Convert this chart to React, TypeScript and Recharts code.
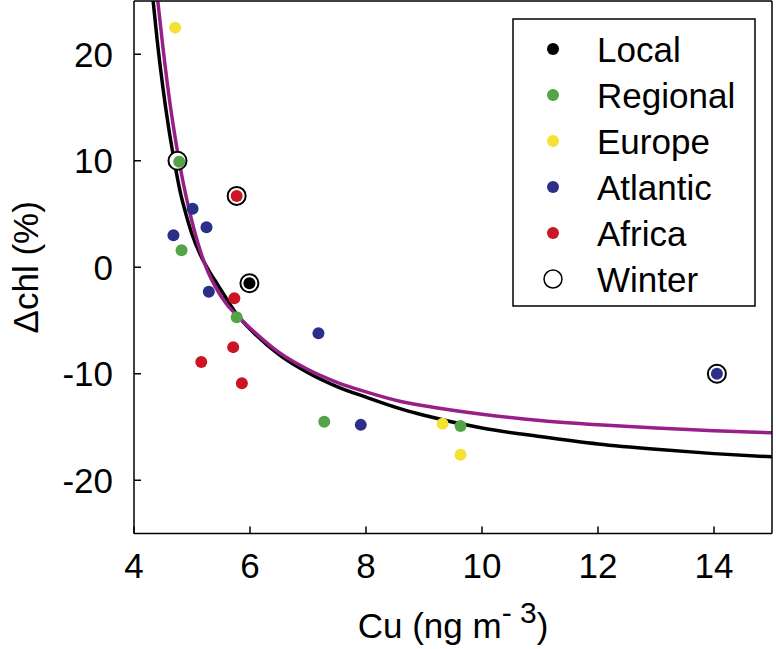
import React from "react";
import { ComposedChart, Line, Scatter, XAxis, YAxis } from "recharts";

const FONT = "'Liberation Sans', Arial, Helvetica, sans-serif";

const xTicks = [4, 6, 8, 10, 12, 14];
const yTicks = [-20, -10, 0, 10, 20];

// groups of samples (Cu, Δchl)
const localPts = [{ x: 5.99, y: -1.5 }];
const regionalPts = [
  { x: 4.78, y: 9.9 },
  { x: 4.82, y: 1.6 },
  { x: 5.77, y: -4.7 },
  { x: 7.28, y: -14.5 },
  { x: 9.63, y: -14.9 },
];
const europePts = [
  { x: 4.71, y: 22.5 },
  { x: 9.32, y: -14.7 },
  { x: 9.63, y: -17.6 },
];
const atlanticPts = [
  { x: 5.01, y: 5.5 },
  { x: 5.25, y: 3.75 },
  { x: 4.68, y: 3.0 },
  { x: 5.29, y: -2.3 },
  { x: 7.18, y: -6.2 },
  { x: 7.91, y: -14.8 },
  { x: 14.05, y: -10.0 },
];
const africaPts = [
  { x: 5.77, y: 6.7 },
  { x: 5.73, y: -2.9 },
  { x: 5.71, y: -7.5 },
  { x: 5.16, y: -8.9 },
  { x: 5.86, y: -10.9 },
];
const winterPts = [
  { x: 4.75, y: 10.0 },
  { x: 5.77, y: 6.7 },
  { x: 5.99, y: -1.5 },
  { x: 14.05, y: -10.0 },
];

// fitted curves
const blackFit = [
  { x: 4.33, y: 25 }, { x: 4.4, y: 21.3 }, { x: 4.5, y: 16.8 }, { x: 4.6, y: 13.0 },
  { x: 4.7, y: 9.8 }, { x: 4.8, y: 7.0 }, { x: 4.9, y: 4.9 }, { x: 5.0, y: 3.1 },
  { x: 5.15, y: 1.1 }, { x: 5.3, y: -0.4 }, { x: 5.45, y: -1.7 }, { x: 5.6, y: -3.0 },
  { x: 5.77, y: -4.4 }, { x: 6.0, y: -5.8 }, { x: 6.5, y: -8.2 }, { x: 7.0, y: -9.9 },
  { x: 7.5, y: -11.2 }, { x: 8.0, y: -12.2 }, { x: 8.6, y: -13.3 }, { x: 9.0, y: -13.9 },
  { x: 10, y: -15.1 }, { x: 11, y: -15.9 }, { x: 12, y: -16.6 }, { x: 13, y: -17.1 },
  { x: 14, y: -17.5 }, { x: 15, y: -17.8 },
];
const purpleFit = [
  { x: 4.41, y: 25 }, { x: 4.5, y: 20.6 }, { x: 4.6, y: 16.2 }, { x: 4.7, y: 12.5 },
  { x: 4.8, y: 9.3 }, { x: 4.9, y: 6.6 }, { x: 5.0, y: 4.3 }, { x: 5.1, y: 2.3 },
  { x: 5.25, y: -0.1 }, { x: 5.4, y: -1.8 }, { x: 5.6, y: -3.5 }, { x: 5.77, y: -4.5 },
  { x: 6.0, y: -5.7 }, { x: 6.5, y: -8.0 }, { x: 7.0, y: -9.6 }, { x: 7.5, y: -10.8 },
  { x: 8.0, y: -11.7 }, { x: 8.6, y: -12.6 }, { x: 9.0, y: -13.0 }, { x: 10, y: -13.8 },
  { x: 11, y: -14.4 }, { x: 12, y: -14.8 }, { x: 13, y: -15.1 }, { x: 14, y: -15.35 },
  { x: 15, y: -15.55 },
];

const colors = {
  local: "#000000",
  regional: "#52a447",
  europe: "#f3e233",
  atlantic: "#2c2f8a",
  africa: "#cc1424",
  fit: "#991f88",
};

const legendItems = [
  { name: "Local", color: colors.local },
  { name: "Regional", color: colors.regional },
  { name: "Europe", color: colors.europe },
  { name: "Atlantic", color: colors.atlantic },
  { name: "Africa", color: colors.africa },
  { name: "Winter", color: null },
];

const dot = (color: string) => (p: any) => (
  <circle cx={p.cx} cy={p.cy} r={6} fill={color} />
);
const ring = (p: any) => (
  <circle cx={p.cx} cy={p.cy} r={9} fill="#fff" stroke="#000" strokeWidth={2} />
);

const tickStyle = { fontSize: 35, fill: "#000", fontFamily: FONT };

const XLabel = (props: any) => {
  const vb = props.viewBox;
  return (
    <text
      x={vb.x + vb.width / 2}
      y={638}
      textAnchor="middle"
      fontSize={35}
      fontFamily={FONT}
      fill="#000"
    >
      Cu (ng m
      <tspan dy={-15} fontSize={30}>- 3</tspan>
      <tspan dy={15}>)</tspan>
    </text>
  );
};

const YLabel = (props: any) => {
  const vb = props.viewBox;
  const cy = vb.y + vb.height / 2;
  return (
    <text
      x={38}
      y={cy}
      transform={`rotate(-90 38 ${cy})`}
      textAnchor="middle"
      fontSize={35}
      fontFamily={FONT}
      fill="#000"
    >
      Δchl (%)
    </text>
  );
};

export default function App() {
  return (
    <div style={{ position: "absolute", left: 0, top: 0, width: 776, height: 649 }}>
      <ComposedChart
        width={776}
        height={649}
        margin={{ top: 0, right: 0, left: 64, bottom: 55.5 }}
      >
        <XAxis
          type="number"
          dataKey="x"
          domain={[4, 15]}
          ticks={xTicks}
          allowDataOverflow
          height={60}
          stroke="#000"
          strokeWidth={1.5}
          tickSize={-7}
          tickMargin={26.5}
          tick={tickStyle}
          label={<XLabel />}
        />
        <XAxis
          xAxisId="top"
          orientation="top"
          type="number"
          domain={[4, 15]}
          ticks={xTicks}
          allowDataOverflow
          height={1}
          stroke="#000"
          strokeWidth={1.5}
          tickSize={-7}
          tick={false}
        />
        <YAxis
          type="number"
          dataKey="y"
          domain={[-25, 25]}
          ticks={yTicks}
          allowDataOverflow
          width={70}
          stroke="#000"
          strokeWidth={1.5}
          tickSize={-7}
          tickMargin={28}
          tick={tickStyle}
          label={<YLabel />}
        />
        <YAxis
          yAxisId="right"
          orientation="right"
          type="number"
          domain={[-25, 25]}
          ticks={yTicks}
          allowDataOverflow
          width={4}
          stroke="#000"
          strokeWidth={1.5}
          tickSize={-7}
          tick={false}
        />
        <Scatter data={winterPts} shape={ring} isAnimationActive={false} />
        <Scatter data={localPts} shape={dot(colors.local)} isAnimationActive={false} />
        <Scatter data={regionalPts} shape={dot(colors.regional)} isAnimationActive={false} />
        <Scatter data={europePts} shape={dot(colors.europe)} isAnimationActive={false} />
        <Scatter data={atlanticPts} shape={dot(colors.atlantic)} isAnimationActive={false} />
        <Scatter data={africaPts} shape={dot(colors.africa)} isAnimationActive={false} />
        <Line
          data={blackFit}
          dataKey="y"
          type="monotone"
          stroke="#000"
          strokeWidth={3.5}
          dot={false}
          activeDot={false}
          isAnimationActive={false}
        />
        <Line
          data={purpleFit}
          dataKey="y"
          type="monotone"
          stroke={colors.fit}
          strokeWidth={3.5}
          dot={false}
          activeDot={false}
          isAnimationActive={false}
        />
      </ComposedChart>
      <svg
        width={776}
        height={649}
        style={{ position: "absolute", left: 0, top: 0, pointerEvents: "none" }}
      >
        <rect x={513} y={19} width={242} height={287} fill="#fff" stroke="#000" strokeWidth={1.5} />
        {legendItems.map((it, i) => {
          const cy = 49 + i * 46;
          return (
            <g key={it.name}>
              {it.color ? (
                <circle cx={553} cy={cy} r={6} fill={it.color} />
              ) : (
                <circle cx={553} cy={cy} r={9} fill="#fff" stroke="#000" strokeWidth={1.5} />
              )}
              <text x={597} y={cy + 12.5} fontSize={35} fontFamily={FONT} fill="#000">
                {it.name}
              </text>
            </g>
          );
        })}
      </svg>
    </div>
  );
}
